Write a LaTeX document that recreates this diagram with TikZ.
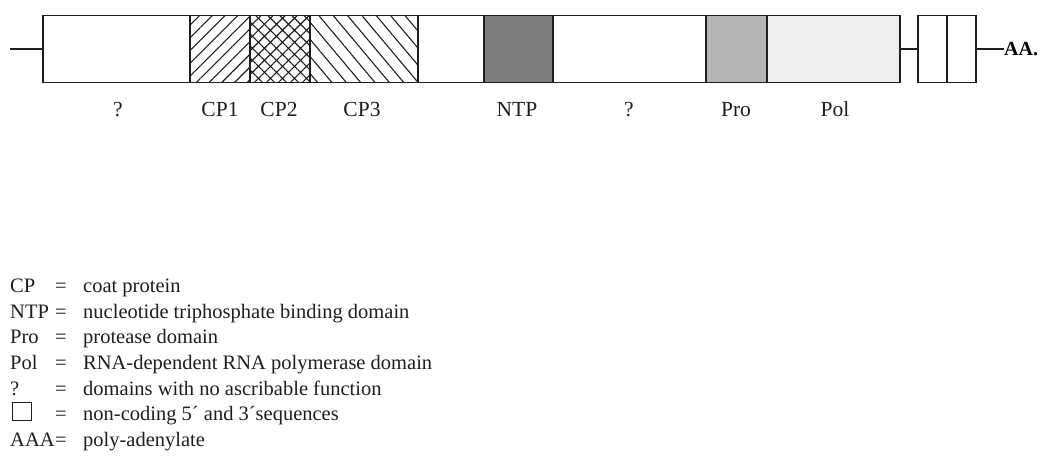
\documentclass[tikz,border=0pt]{standalone}
\usepackage{fontspec}
\setmainfont{Liberation Serif}
\usetikzlibrary{positioning,patterns.meta}
\definecolor{ink}{HTML}{1E1E1E}
\definecolor{cntp}{HTML}{7D7D7D}
\definecolor{cpro}{HTML}{B4B4B4}
\definecolor{cpol}{HTML}{EEEEEE}
\tikzset{
  seg/.style={draw=ink, line width=1.4pt, fill=white, minimum height=67pt,
              inner sep=0pt, outer sep=0pt, anchor=west},
  hatchA/.style={seg, pattern={Lines[angle=45,distance=9pt,line width=1.1pt]}, pattern color=ink},
  hatchB/.style={seg, pattern={Hatch[angle=45,distance=8.5pt,line width=1.1pt]}, pattern color=ink},
  hatchC/.style={seg, pattern={Lines[angle=-50,distance=11pt,line width=1.1pt]}, pattern color=ink},
  rna/.style={draw=ink, line width=1.4pt},
  dlbl/.style={font=\fontsize{21.5}{24}\selectfont, text=ink, anchor=base},
  key/.style={font=\fontsize{20.5}{24}\selectfont, text=ink, anchor=base west, inner sep=0pt},
}
\begin{document}
\begin{tikzpicture}[x=1pt,y=-1pt]
\useasboundingbox (0,0) rectangle (1045,457);
% genome segments
\node[seg, minimum width=147pt] (q1)  at (43,49)  {};
\node[hatchA, minimum width=60pt] (cp1) at (190,49) {};
\node[hatchB, minimum width=60pt] (cp2) at (250,49) {};
\node[hatchC, minimum width=108pt] (cp3) at (310,49) {};
\node[seg, minimum width=66pt] (gap) at (418,49) {};
\node[seg, fill=cntp, minimum width=69pt] (ntp) at (484,49) {};
\node[seg, minimum width=153pt] (q2)  at (553,49) {};
\node[seg, fill=cpro, minimum width=61pt] (pro) at (706,49) {};
\node[seg, fill=cpol, minimum width=133pt] (pol) at (767,49) {};
\node[seg, minimum width=29pt] (utra) at (918,49) {};
\node[seg, minimum width=29pt] (utrb) at (947,49) {};
\node[font=\fontsize{20}{22}\selectfont\bfseries, anchor=west, inner sep=0pt] (polya) at (1004,49) {AA.};
% 5' end and linkers
\coordinate (fiveend) at (10,49);
\draw[rna] (fiveend) -- (q1.west);
\draw[rna] (pol.east) -- (utra.west);
\draw[rna] (utrb.east) -- (polya.west);
% domain labels
\node[dlbl] at (118,117) {?};
\node[dlbl] at (220,117) {CP1};
\node[dlbl] at (279,117) {CP2};
\node[dlbl] at (362,117) {CP3};
\node[dlbl] at (517,117) {NTP};
\node[dlbl] at (629,117) {?};
\node[dlbl] at (736,117) {Pro};
\node[dlbl] at (835,117) {Pol};
% legend
\foreach \abbr/\desc [count=\i] in {CP/coat protein,
    NTP/nucleotide triphosphate binding domain,
    Pro/protease domain,
    Pol/RNA-dependent RNA polymerase domain,
    ?/domains with no ascribable function,
    {}/non-coding 5\textasciiacute{} and 3\textasciiacute{}sequences,
    AAA/poly-adenylate}{
  \node[key] (abbr\i) at (10,{267.5+25.5*\i}) {\abbr};
  \node[key, anchor=base] (eq\i) at (61,{267.5+25.5*\i}) {=};
  \node[key] (desc\i) at (83,{267.5+25.5*\i}) {\desc};
}
\node[draw=ink, line width=0.9pt, minimum width=19pt, minimum height=18pt, inner sep=0pt,
      anchor=south west] (keybox) at (12,421) {};
\end{tikzpicture}
\end{document}
